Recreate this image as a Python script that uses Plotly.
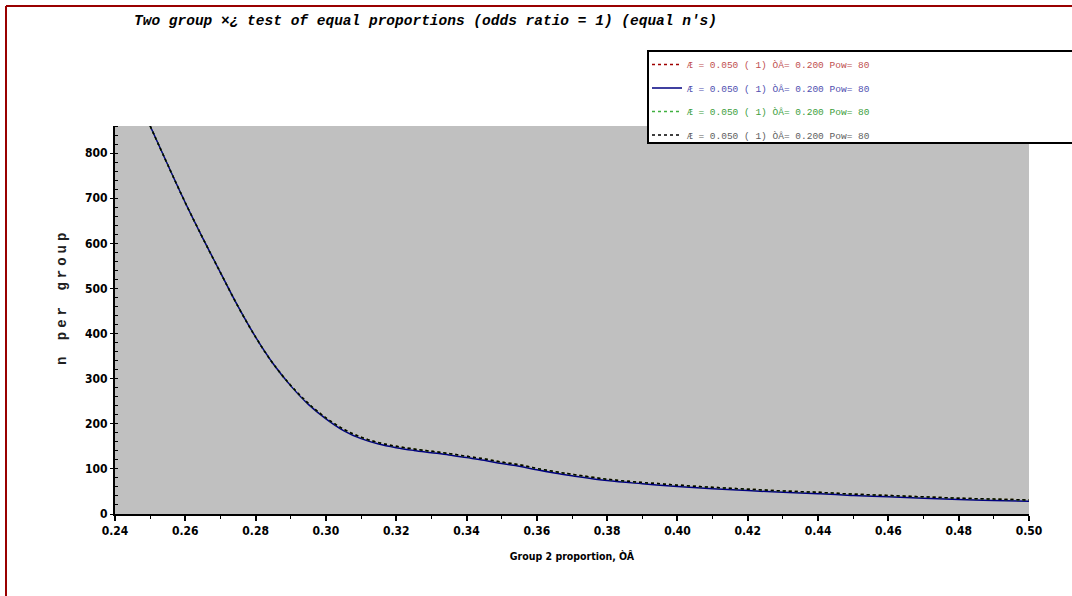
import plotly.graph_objects as go

# Group 2 proportion (x) and n per group (y)
p2 = [0.250, 0.255, 0.260, 0.265, 0.270, 0.275, 0.280, 0.285, 0.290, 0.295,
      0.300, 0.305, 0.310, 0.315, 0.320, 0.325, 0.330, 0.335, 0.340, 0.345,
      0.350, 0.355, 0.360, 0.365, 0.370, 0.380, 0.390, 0.400, 0.410, 0.420,
      0.430, 0.440, 0.450, 0.460, 0.470, 0.480, 0.490, 0.500]
n_red = [860, 774, 690, 611, 535, 460, 392, 333, 285, 245,
         213, 188, 170, 158, 150, 144, 139, 134, 128, 122,
         115, 109, 101, 94, 88, 77, 70, 64, 59, 55,
         51, 48, 44, 41, 38, 35, 33, 31]
n_blue = [860, 774, 690, 611, 535, 460, 392, 333, 284, 243,
          211, 185, 167, 155, 147, 141, 136, 131, 125, 119,
          112, 106, 98, 91, 85, 74, 67, 61, 56, 52,
          48, 45, 41, 38, 35, 32, 30, 28]
n_green = n_red
n_black = n_red

legend_label = "\u00c6 = 0.050 ( 1) \u00d2\u00c2= 0.200 Pow= 80"
title_text = "Two group \u00d7\u00bf test of equal proportions (odds ratio = 1) (equal n's)"
x_title = "Group 2 proportion, \u00d2\u00c2"
y_title = "n per group"

x_ticks = [0.24, 0.26, 0.28, 0.30, 0.32, 0.34, 0.36, 0.38, 0.40, 0.42, 0.44, 0.46, 0.48, 0.50]
y_ticks = [0, 100, 200, 300, 400, 500, 600, 700, 800]

series = [
    (n_red, "#a00000", "dot", "#c05050"),
    (n_blue, "#000080", "solid", "#5050b0"),
    (n_green, "#40b040", "dot", "#40a040"),
    (n_black, "#000000", "dot", "#606060"),
]

fig = go.Figure()
for i, (vals, col, dash, tcol) in enumerate(series):
    fig.add_trace(go.Scatter(
        x=p2, y=vals, mode="lines", line=dict(color=col, width=1.5, dash=dash, shape="spline"),
        name=f'<span style="color:{tcol}">{legend_label}</span>', legendgroup=str(i)))

W, H = 1072, 596
L, R, T, B = 115, 43, 126, 82
pw, ph = W - L - R, H - T - B

def px(x):
    return (x - L) / pw

def py(y):
    return (H - B - y) / ph

mono = "Liberation Mono, Courier New, monospace"
cond = "DejaVu Sans Condensed, Liberation Sans Narrow, Arial Narrow, sans-serif"

fig.update_layout(
    width=W, height=H,
    margin=dict(l=L, r=R, t=T, b=B),
    paper_bgcolor="white",
    plot_bgcolor="#c0c0c0",
    showlegend=True,
    legend=dict(x=px(647), y=py(50), xanchor="left", yanchor="top",
                bgcolor="rgba(0,0,0,0)", borderwidth=0,
                font=dict(family=mono, size=9.5), itemwidth=30,
                tracegroupgap=4.5),
    xaxis=dict(range=[0.24, 0.50], tickvals=x_ticks, ticktext=[f"{v:.2f}" for v in x_ticks],
               showgrid=False, zeroline=False, showline=True, linecolor="black", linewidth=2,
               ticks="outside", ticklen=5, tickwidth=2, tickcolor="black",
               minor=dict(dtick=0.01, ticks="outside", ticklen=3, tickwidth=1, tickcolor="black", showgrid=False),
               tickfont=dict(family=cond, size=12, color="black", weight="bold"),
               title=dict(text=x_title, font=dict(family=cond, size=10.5, color="black", weight="bold"), standoff=15)),
    yaxis=dict(range=[0, 860], tickvals=y_ticks, ticktext=[str(v) for v in y_ticks],
               showgrid=False, zeroline=False, showline=True, linecolor="black", linewidth=2,
               ticks="outside", ticklen=3, tickwidth=1, tickcolor="black",
               minor=dict(dtick=20, ticks="inside", ticklen=3, tickwidth=1, tickcolor="black", showgrid=False),
               tickfont=dict(family=cond, size=12, color="black", weight="bold")),
    annotations=[
        dict(text=title_text, x=px(132), y=py(21), xref="paper", yref="paper",
             xanchor="left", yanchor="middle", showarrow=False,
             font=dict(family=mono, size=14.5, color="black", weight="bold", style="italic")),
        dict(text=y_title, x=px(62), y=py(297), xref="paper", yref="paper",
             xanchor="center", yanchor="middle", showarrow=False, textangle=-90,
             font=dict(family=mono, size=14, color="#202020", weight="bold")),
    ],
    shapes=[
        # page border (top and left)
        dict(type="line", xref="paper", yref="paper", x0=px(6), x1=px(1080), y0=py(6), y1=py(6),
             line=dict(color="#990000", width=2), layer="above"),
        dict(type="line", xref="paper", yref="paper", x0=px(6), x1=px(6), y0=py(6), y1=py(600),
             line=dict(color="#990000", width=2), layer="above"),
        # legend box
        dict(type="rect", xref="paper", yref="paper", x0=px(648), x1=px(1090), y0=py(51), y1=py(143),
             fillcolor="white", line=dict(color="black", width=2), layer="above"),
    ],
)

post = """
document.body.style.margin = '0';
var a = document.querySelectorAll('.annotation-text');
if (a.length > 1) { a[1].style.letterSpacing = '4px'; }
"""
fig.write_html("out.html", post_script=post, config={"displayModeBar": False})
